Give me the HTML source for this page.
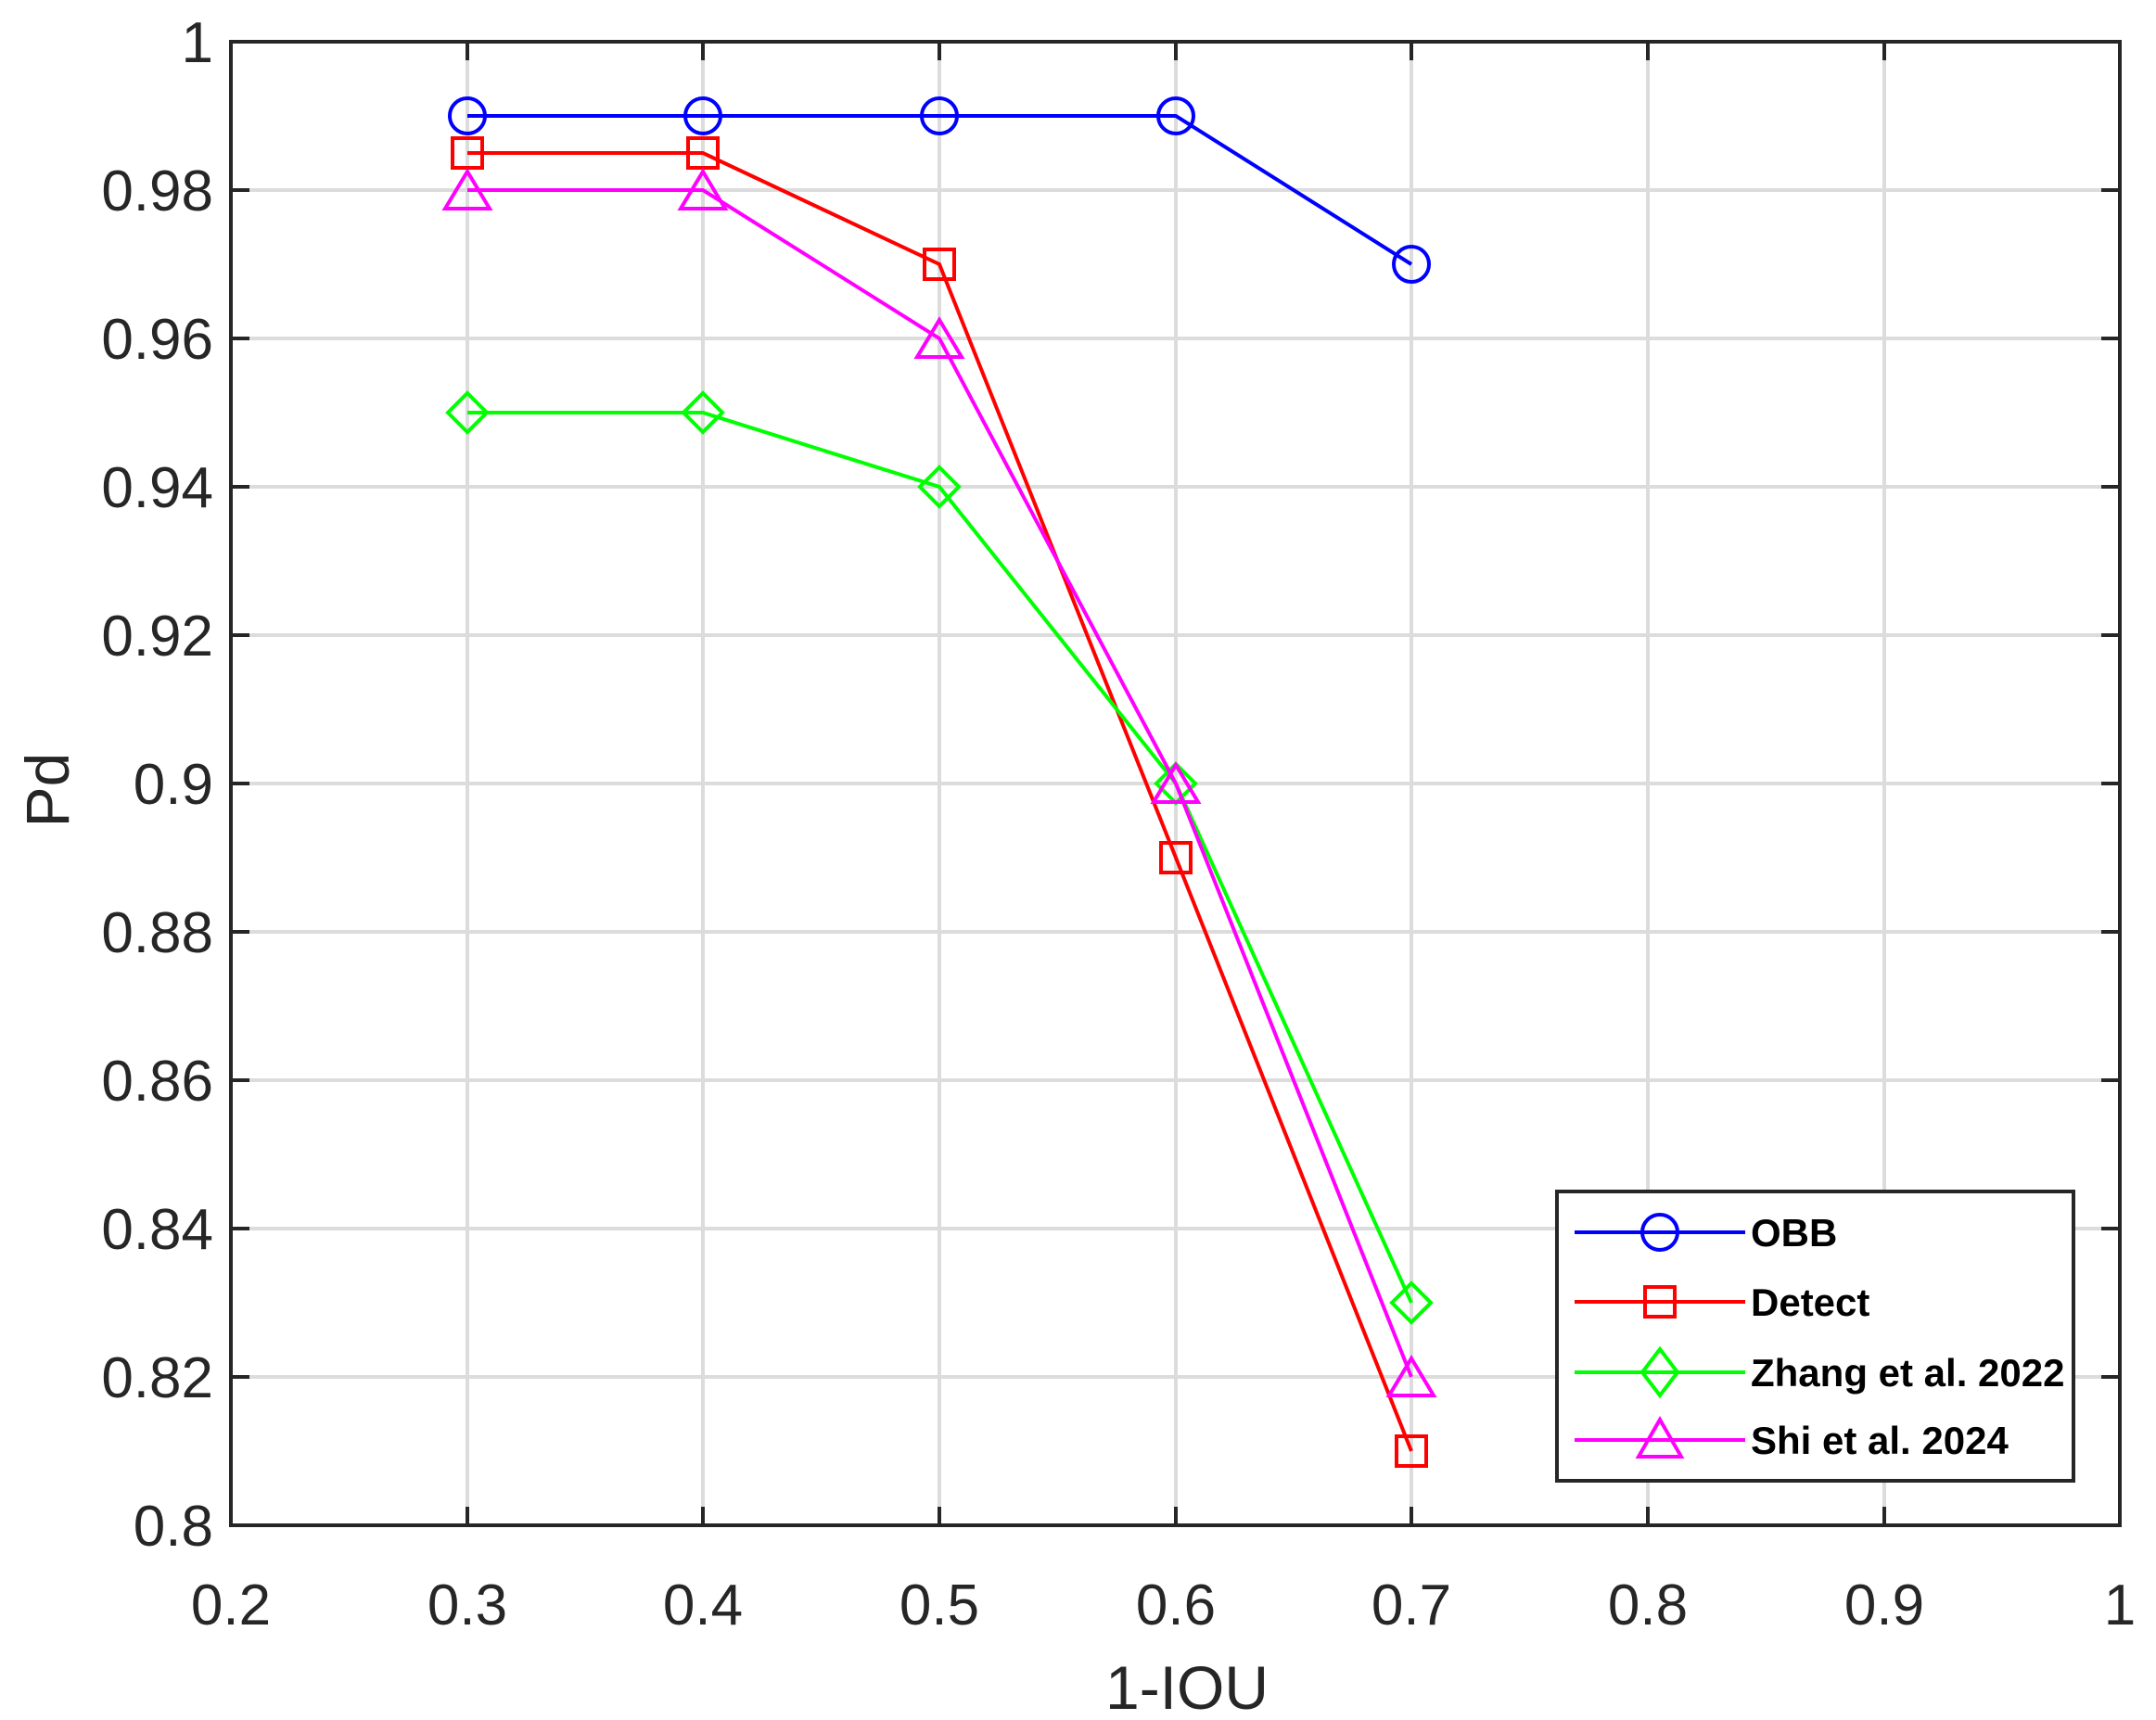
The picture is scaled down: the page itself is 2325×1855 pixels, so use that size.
<!DOCTYPE html>
<html><head><meta charset="utf-8"><style>
html,body{margin:0;padding:0;background:#fff;}
svg{display:block;}
text{font-family:"Liberation Sans",Arial,sans-serif;fill:#262626;}
</style></head><body>
<svg width="2325" height="1855" viewBox="0 0 2325 1855" xmlns="http://www.w3.org/2000/svg">
<rect width="2325" height="1855" fill="#fff"/>
<g stroke="#dcdcdc" stroke-width="4">
<line x1="504" y1="45" x2="504" y2="1645"/><line x1="758" y1="45" x2="758" y2="1645"/><line x1="1013" y1="45" x2="1013" y2="1645"/><line x1="1268" y1="45" x2="1268" y2="1645"/><line x1="1522" y1="45" x2="1522" y2="1645"/><line x1="1777" y1="45" x2="1777" y2="1645"/><line x1="2032" y1="45" x2="2032" y2="1645"/>
<line x1="249" y1="205" x2="2286" y2="205"/><line x1="249" y1="365" x2="2286" y2="365"/><line x1="249" y1="525" x2="2286" y2="525"/><line x1="249" y1="685" x2="2286" y2="685"/><line x1="249" y1="845" x2="2286" y2="845"/><line x1="249" y1="1005" x2="2286" y2="1005"/><line x1="249" y1="1165" x2="2286" y2="1165"/><line x1="249" y1="1325" x2="2286" y2="1325"/><line x1="249" y1="1485" x2="2286" y2="1485"/>
</g>
<g stroke="#262626" stroke-width="4">
<rect x="249" y="45" width="2037" height="1600" fill="none"/>
<path d="M504 45v20M758 45v20M1013 45v20M1268 45v20M1522 45v20M1777 45v20M2032 45v20M504 1645v-20M758 1645v-20M1013 1645v-20M1268 1645v-20M1522 1645v-20M1777 1645v-20M2032 1645v-20"/>
<path d="M249 205h20M249 365h20M249 525h20M249 685h20M249 845h20M249 1005h20M249 1165h20M249 1325h20M249 1485h20M2286 205h-20M2286 365h-20M2286 525h-20M2286 685h-20M2286 845h-20M2286 1005h-20M2286 1165h-20M2286 1325h-20M2286 1485h-20"/>
</g>
<g font-size="62" text-anchor="end">
<text x="230" y="67">1</text><text x="230" y="227">0.98</text><text x="230" y="387">0.96</text><text x="230" y="547">0.94</text><text x="230" y="707">0.92</text><text x="230" y="867">0.9</text><text x="230" y="1027">0.88</text><text x="230" y="1187">0.86</text><text x="230" y="1347">0.84</text><text x="230" y="1507">0.82</text><text x="230" y="1667">0.8</text>
</g>
<g font-size="62" text-anchor="middle">
<text x="249" y="1752">0.2</text><text x="504" y="1752">0.3</text><text x="758" y="1752">0.4</text><text x="1013" y="1752">0.5</text><text x="1268" y="1752">0.6</text><text x="1522" y="1752">0.7</text><text x="1777" y="1752">0.8</text><text x="2032" y="1752">0.9</text><text x="2286" y="1752">1</text>
</g>
<text x="1280" y="1843" font-size="66" text-anchor="middle">1-IOU</text>
<text transform="translate(74,852) rotate(-90)" font-size="66" text-anchor="middle">Pd</text>
<g fill="none" stroke-width="4">
<polyline stroke="#0000ff" points="504,125 758,125 1013,125 1268,125 1522,285"/>
<g stroke="#0000ff"><circle cx="504" cy="125" r="19"/><circle cx="758" cy="125" r="19"/><circle cx="1013" cy="125" r="19"/><circle cx="1268" cy="125" r="19"/><circle cx="1522" cy="285" r="19"/></g>
<polyline stroke="#ff0000" points="504,165 758,165 1013,285 1268,925 1522,1565"/>
<g stroke="#ff0000"><rect x="488" y="149" width="32" height="32"/><rect x="742" y="149" width="32" height="32"/><rect x="997" y="269" width="32" height="32"/><rect x="1252" y="909" width="32" height="32"/><rect x="1506" y="1549" width="32" height="32"/></g>
<polyline stroke="#00ff00" points="504,445 758,445 1013,525 1268,845 1522,1405"/>
<g stroke="#00ff00"><path d="M504 424l21 21l-21 21l-21-21z"/><path d="M758 424l21 21l-21 21l-21-21z"/><path d="M1013 504l21 21l-21 21l-21-21z"/><path d="M1268 824l21 21l-21 21l-21-21z"/><path d="M1522 1384l21 21l-21 21l-21-21z"/></g>
<polyline stroke="#ff00ff" points="504,205 758,205 1013,365 1268,845 1522,1485"/>
<g stroke="#ff00ff"><path d="M504 185l-24 40h48z"/><path d="M758 185l-24 40h48z"/><path d="M1013 345l-24 40h48z"/><path d="M1268 825l-24 40h48z"/><path d="M1522 1465l-24 40h48z"/></g>
</g>
<rect x="1679" y="1285" width="557" height="312" fill="#fff" stroke="#262626" stroke-width="4"/>
<g fill="none" stroke-width="4">
<line x1="1698" y1="1329" x2="1882" y2="1329" stroke="#0000ff"/><circle cx="1790" cy="1329" r="19" stroke="#0000ff"/>
<line x1="1698" y1="1404" x2="1882" y2="1404" stroke="#ff0000"/><rect x="1774" y="1388" width="32" height="32" stroke="#ff0000"/>
<line x1="1698" y1="1480" x2="1882" y2="1480" stroke="#00ff00"/><path d="M1790 1455l19 25l-19 25l-19-25z" stroke="#00ff00"/>
<line x1="1698" y1="1553" x2="1882" y2="1553" stroke="#ff00ff"/><path d="M1790 1531l-23 40h46z" stroke="#ff00ff"/>
</g>
<g font-size="42" font-weight="bold">
<text x="1888" y="1344" style="fill:#000">OBB</text><text x="1888" y="1419" style="fill:#000">Detect</text><text x="1888" y="1495" style="fill:#000">Zhang et al. 2022</text><text x="1888" y="1568" style="fill:#000">Shi et al. 2024</text>
</g>
</svg>
</body></html>
